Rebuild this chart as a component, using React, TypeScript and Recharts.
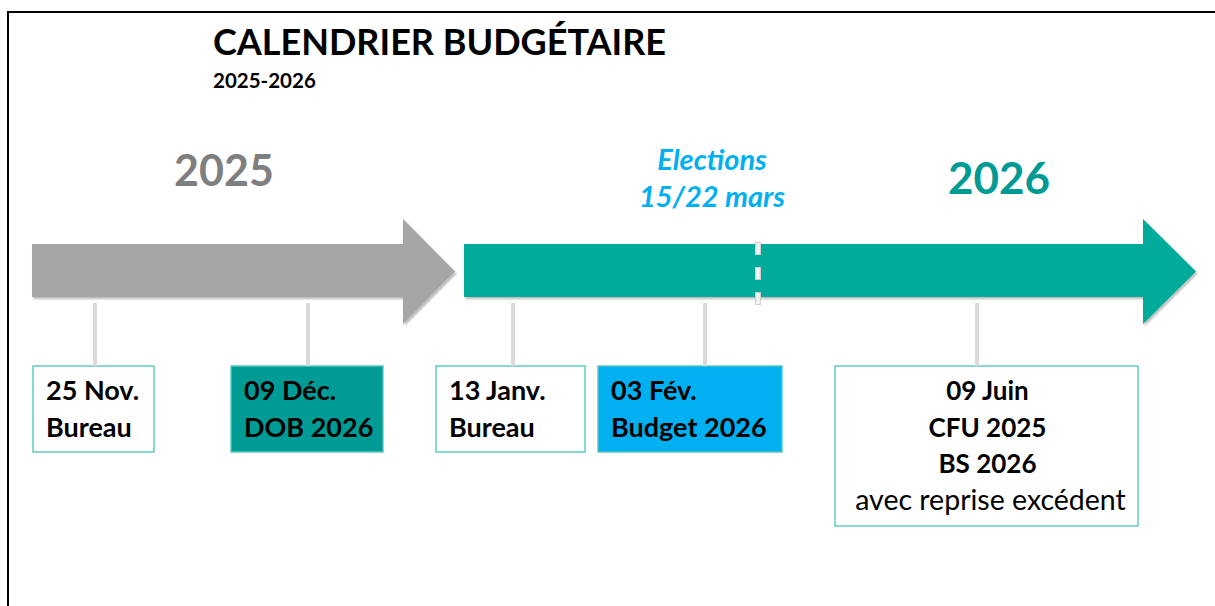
import React from "react";
import { ComposedChart, XAxis, YAxis, ReferenceArea, ReferenceLine } from "recharts";

const W = 1215;
const H = 606;

// timeline stops
const eventDates = ["25 Nov.", "09 Déc.", "13 Janv.", "03 Fév.", "09 Juin"];
const eventTitles = [["Bureau"], ["DOB 2026"], ["Bureau"], ["Budget 2026"], ["CFU 2025", "BS 2026"]];
const eventNotes = ["", "", "", "", "avec reprise excédent"];
const eventPos = [95, 308, 513, 705, 977];

const years = ["2025", "2026"];
const electionLines = ["Elections", "15/22 mars"];
const electionPos = 758;

// layout (chart units == px)
const boxLeft = [33, 231, 436, 598, 835];
const boxRight = [154, 383, 585, 782, 1138];
const boxTop = 366;
const boxBottom = [452, 452, 452, 452, 526];
const boxFill = ["#ffffff", "#009B95", "#ffffff", "#00B0F0", "#ffffff"];
const boxAlign = ["start", "start", "start", "start", "middle"];

const arrows = [
  { x1: 32, head: 403, x2: 455, fill: "#A6A6A6" },
  { x1: 464, head: 1143, x2: 1196, fill: "#00AB9B" },
];
const headTop = 219;
const headBottom = 324;
const bodyTop = 244;
const bodyBottom = 297;

const FONT = "Lato, 'Open Sans', sans-serif";

function ArrowShape(props: any) {
  const { x, y, width, height, a } = props;
  const hx = x + ((a.head - a.x1) / (a.x2 - a.x1)) * width;
  const by1 = y + ((bodyTop - headTop) / (headBottom - headTop)) * height;
  const by2 = y + ((bodyBottom - headTop) / (headBottom - headTop)) * height;
  const pts = [
    [x, by1],
    [hx, by1],
    [hx, y],
    [x + width, y + height / 2],
    [hx, y + height],
    [hx, by2],
    [x, by2],
  ]
    .map((p) => p.join(","))
    .join(" ");
  return (
    <g>
      <defs>
        <filter id={"sh" + a.x1} x="-5%" y="-10%" width="110%" height="130%">
          <feDropShadow dx="1.5" dy="2" stdDeviation="1.2" floodColor="#000" floodOpacity="0.28" />
        </filter>
      </defs>
      <polygon points={pts} fill={a.fill} filter={`url(#sh${a.x1})`} />
    </g>
  );
}

function BoxShape(props: any) {
  const { x, y, width, height, i } = props;
  const lines = [eventDates[i], ...eventTitles[i]];
  const mid = boxAlign[i] === "middle";
  const tx = mid ? x + width / 2 + 1 : x + 13;
  return (
    <g>
      <rect x={x} y={y} width={width} height={height} fill={boxFill[i]} stroke="#55C8BB" strokeWidth={1.4} />
      {lines.map((t, k) => (
        <text
          key={k}
          x={tx}
          y={y + 34 + k * 36.5}
          textAnchor={boxAlign[i]}
          fontFamily={FONT}
          fontWeight={700}
          fontSize={mid ? 26 : 27}
          fill="#000"
        >
          {t}
        </text>
      ))}
      {eventNotes[i] && (
        <text
          x={tx + 3}
          y={y + 34 + lines.length * 36.5}
          textAnchor={boxAlign[i]}
          fontFamily={FONT}
          fontSize={28.5}
          fill="#000"
        >
          {eventNotes[i]}
        </text>
      )}
    </g>
  );
}

export default function App() {
  return (
    <div style={{ position: "absolute", left: 0, top: 0, width: W, height: H, background: "#fff", overflow: "hidden" }}>
      <div
        style={{
          position: "absolute",
          left: 7,
          top: 11,
          width: W,
          height: H,
          borderLeft: "2px solid #000",
          borderTop: "2px solid #000",
        }}
      />
      <div style={{ position: "absolute", left: 0, top: 0 }}>
        <ComposedChart width={W} height={H} margin={{ top: 0, right: 0, bottom: 0, left: 0 }} data={[{ x: 0, y: 0 }]}>
          <XAxis type="number" dataKey="x" domain={[0, W]} hide allowDataOverflow />
          <YAxis type="number" dataKey="y" domain={[0, H]} reversed hide allowDataOverflow />
          {arrows.map((a, k) => (
            <ReferenceArea
              key={"a" + k}
              x1={a.x1}
              x2={a.x2}
              y1={headTop}
              y2={headBottom}
              ifOverflow="visible"
              shape={(p: any) => <ArrowShape {...p} a={a} />}
            />
          ))}
          <ReferenceLine
            segment={[{ x: electionPos, y: 242 }, { x: electionPos, y: 306 }]}
            stroke="#D0D0D0"
            strokeWidth={6}
            strokeDasharray="13 12"
            ifOverflow="visible"
          />
          <ReferenceLine
            segment={[{ x: electionPos, y: 243 }, { x: electionPos, y: 305 }]}
            stroke="#F4F4F4"
            strokeWidth={3.5}
            strokeDasharray="11 14"
            ifOverflow="visible"
          />
          {eventPos.map((p, k) => (
            <ReferenceLine
              key={"c" + k}
              segment={[{ x: p, y: 303 }, { x: p, y: boxTop }]}
              stroke="#D9D9D9"
              strokeWidth={4}
              ifOverflow="visible"
            />
          ))}
          {eventDates.map((d, i) => (
            <ReferenceArea
              key={"b" + i}
              x1={boxLeft[i]}
              x2={boxRight[i]}
              y1={boxTop}
              y2={boxBottom[i]}
              ifOverflow="visible"
              shape={(p: any) => <BoxShape {...p} i={i} />}
            />
          ))}
        </ComposedChart>
      </div>
      <svg width={W} height={H} style={{ position: "absolute", left: 0, top: 0, pointerEvents: "none" }}>
        <text x={213} y={55} fontFamily={FONT} fontWeight={700} fontSize={36} fill="#000">
          CALENDRIER BUDGÉTAIRE
        </text>
        <text x={213} y={88} fontFamily={FONT} fontWeight={700} fontSize={20.5} fill="#000">
          2025-2026
        </text>
        <text x={224} y={186} textAnchor="middle" fontFamily={FONT} fontWeight={700} fontSize={43} fill="#7F7F7F">
          {years[0]}
        </text>
        <text x={999} y={194} textAnchor="middle" fontFamily={FONT} fontWeight={700} fontSize={44} fill="#009B95">
          {years[1]}
        </text>
        {electionLines.map((t, k) => (
          <text
            key={k}
            x={712}
            y={170 + k * 37}
            textAnchor="middle"
            fontFamily={FONT}
            fontWeight={700}
            fontStyle="italic"
            fontSize={29}
            fill="#00B0F0"
          >
            {t}
          </text>
        ))}
      </svg>
    </div>
  );
}
